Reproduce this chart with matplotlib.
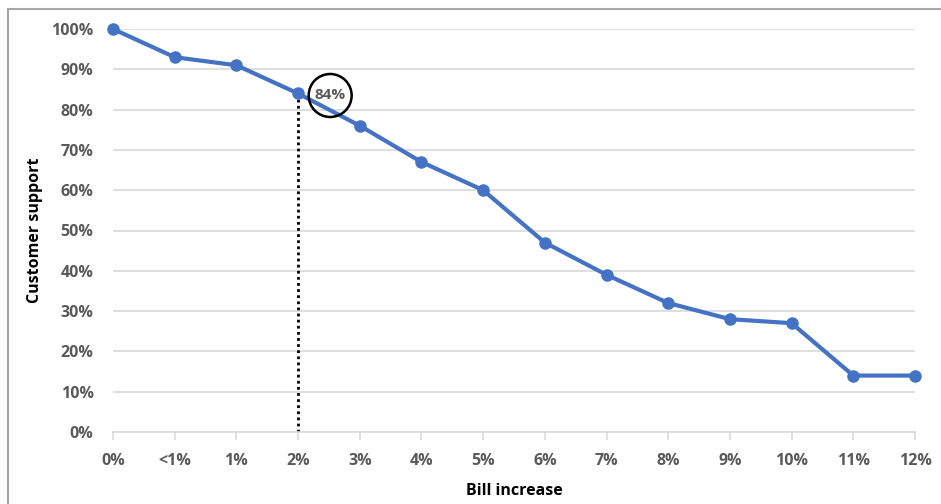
import numpy as np
import matplotlib.pyplot as plt
from matplotlib.patches import Rectangle, Ellipse

plt.rcParams['font.family'] = ['Open Sans', 'DejaVu Sans']

categories = ['0%', '<1%', '1%', '2%', '3%', '4%', '5%', '6%', '7%', '8%', '9%', '10%', '11%', '12%']
support = [100, 93, 91, 84, 76, 67, 60, 47, 39, 32, 28, 27, 14, 14]
highlight_idx = 3

blue = '#4472c4'
grey_txt = '#595959'
grid_c = '#d9d9d9'

fig = plt.figure(figsize=(9.41, 5.04), dpi=100)
ax = fig.add_axes([113/941, 1 - 432/504, (915 - 113)/941, (432 - 29)/504])

x = np.arange(len(categories))
ax.plot(x, support, color=blue, lw=3, marker='o', ms=8, clip_on=False, zorder=3)

# dotted drop line at 2%
ax.plot([highlight_idx, highlight_idx], [0, support[highlight_idx]], color='black',
        lw=2, linestyle=(0, (1, 1.2)), zorder=2)

ax.set_xlim(0, len(categories) - 1)
ax.set_ylim(0, 100)
ax.set_xticks(x)
ax.set_xticklabels(categories)
ax.set_yticks(np.arange(0, 101, 10))
ax.set_yticklabels([f'{v}%' for v in range(0, 101, 10)])

ax.grid(axis='y', color=grid_c, lw=1.2)
ax.set_axisbelow(True)
for s in ['top', 'right', 'left']:
    ax.spines[s].set_visible(False)
ax.spines['bottom'].set_color(grid_c)
ax.spines['bottom'].set_linewidth(1.2)
ax.tick_params(axis='y', length=0, pad=14, labelsize=11.5, labelcolor=grey_txt)
ax.tick_params(axis='x', length=6, width=1.2, color=grid_c, direction='out', pad=9,
               labelsize=11.5, labelcolor=grey_txt)
for lab in ax.get_xticklabels() + ax.get_yticklabels():
    lab.set_fontweight('bold')

ax.set_xlabel('Bill increase', fontsize=11.5, fontweight='bold', labelpad=10)
ax.set_ylabel('Customer support', fontsize=11.5, fontweight='bold', labelpad=6)

# circled label
lx, ly = highlight_idx + 0.52, support[highlight_idx] - 0.5
ax.text(lx, ly, '84%', ha='center', va='center', fontsize=11, fontweight='bold',
        color=grey_txt, zorder=5)
ax.add_patch(Ellipse((lx, ly), 43/61.7, 43/4.03, fill=False, ec='black', lw=1.8, zorder=5))

# outer frame
fig.patches.append(Rectangle((8/941, -0.1), 1.1, 1 - 9/504 + 0.1, transform=fig.transFigure,
                             fill=False, ec='#a6a6a6', lw=1.5))

fig.savefig('out.png', dpi=100)
